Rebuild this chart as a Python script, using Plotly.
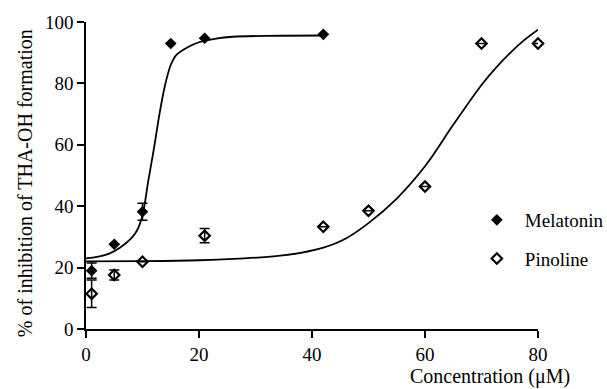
import plotly.graph_objects as go

# Data points
mel_x = [1, 5, 10, 15, 21, 42]
mel_y = [19.0, 27.6, 38.2, 93.0, 94.7, 96.0]
mel_err = [2.5, 0, 2.8, 0, 0, 0]

pin_x = [1, 5, 10, 21, 42, 50, 60, 70, 80]
pin_y = [11.5, 17.6, 21.9, 30.4, 33.3, 38.5, 46.4, 93.0, 93.0]
pin_err = [4.5, 1.6, 0, 2.3, 0, 0, 0, 0, 0]

# Fitted curves
mel_fit_x = [0, 2, 4, 6, 8, 9, 10, 10.5, 11, 12, 13, 14, 15, 16, 18, 20, 23, 26, 32, 42]
mel_fit_y = [23, 23.5, 24.5, 26.5, 29.5, 32, 37, 42, 48, 58.5, 70, 79.5, 86, 89.3, 91.8, 93.4, 94.6, 95.2, 95.5, 95.6]

pin_fit_x = [0, 10, 20, 28, 34, 38, 42, 46, 50, 55, 60, 65, 70, 72.5, 75, 77.5, 80]
pin_fit_y = [22, 22.1, 22.4, 23.0, 23.8, 24.8, 26.5, 29.5, 34.5, 42.5, 53, 66.5, 79.5, 85, 89.8, 94, 97.5]

x_ticks = [0, 20, 40, 60, 80]
y_ticks = [0, 20, 40, 60, 80, 100]

FONT = "Times New Roman, Liberation Serif, Times, serif"

fig = go.Figure()

fig.add_trace(go.Scatter(x=mel_fit_x, y=mel_fit_y, mode="lines",
                         line=dict(color="black", width=1.8, shape="spline", smoothing=0.8),
                         showlegend=False, hoverinfo="skip"))
fig.add_trace(go.Scatter(x=pin_fit_x, y=pin_fit_y, mode="lines",
                         line=dict(color="black", width=1.8, shape="spline", smoothing=1.0),
                         showlegend=False, hoverinfo="skip"))

fig.add_trace(go.Scatter(
    x=mel_x, y=mel_y, mode="markers", name="Melatonin", legendgroup="m",
    marker=dict(symbol="diamond", size=9, color="black", line=dict(color="black", width=0)),
    error_y=dict(type="data", array=mel_err, visible=True, color="black", thickness=1.5, width=5),
    cliponaxis=False))
fig.add_trace(go.Scatter(
    x=pin_x, y=pin_y, mode="markers", name="Pinoline", legendgroup="p",
    marker=dict(symbol="diamond-open", size=8, color="black", line=dict(color="black", width=2.2)),
    error_y=dict(type="data", array=pin_err, visible=True, color="black", thickness=1.5, width=5),
    cliponaxis=False))

axis_common = dict(showline=True, linecolor="black", linewidth=1.5, ticks="outside",
                   ticklen=7, tickwidth=1.5, tickcolor="black", showgrid=False, zeroline=False,
                   tickfont=dict(family=FONT, size=19, color="black"))

fig.update_xaxes(range=[0, 80], tickvals=x_ticks, **axis_common)
fig.update_yaxes(range=[0, 100], tickvals=y_ticks, **axis_common)

fig.update_layout(
    width=607, height=389,
    margin=dict(l=86, r=69, t=22, b=60, autoexpand=False),
    plot_bgcolor="white", paper_bgcolor="white",
    font=dict(family=FONT, size=19, color="black"),
    legend=dict(x=0.847, xanchor="left", y=0.417, yanchor="top",
                font=dict(family=FONT, size=19, color="black"),
                itemwidth=46,
                tracegroupgap=11, bgcolor="rgba(0,0,0,0)"),
    annotations=[
        dict(text="% of inhibition of THA-OH formation", xref="paper", yref="paper",
             x=-0.135, y=0.475, xanchor="center", yanchor="middle", textangle=-90,
             showarrow=False, font=dict(family=FONT, size=20, color="black")),
        dict(text="Concentration (μM)", xref="paper", yref="paper",
             x=0.894, y=-0.156, xanchor="center", yanchor="middle",
             showarrow=False, font=dict(family=FONT, size=20, color="black")),
    ],
)

fig.write_html("out.html", config={"displayModeBar": False},
               post_script="document.body.style.margin='0px';")
